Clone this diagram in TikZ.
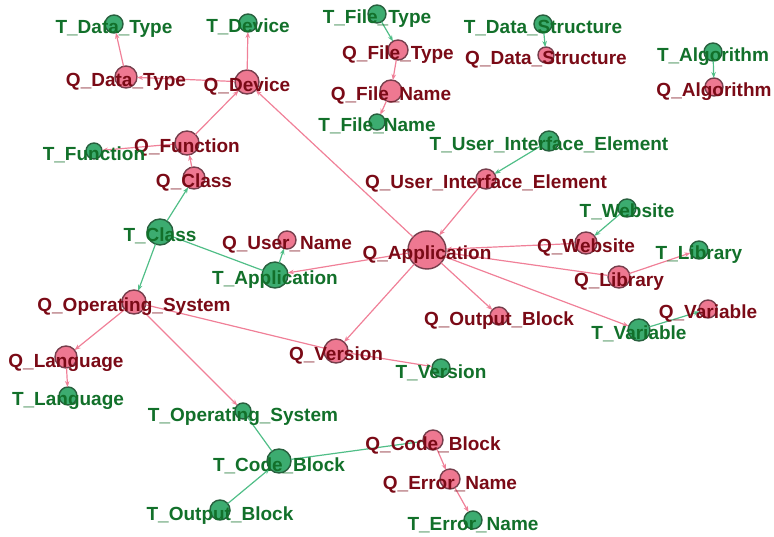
\documentclass[tikz,border=0pt]{standalone}
\usepackage{fontspec}
\setmainfont{Liberation Sans}
\usetikzlibrary{arrows.meta}
\definecolor{qfill}{RGB}{238,120,145}
\definecolor{tfill}{RGB}{60,172,112}
\definecolor{qline}{RGB}{118,62,76}
\definecolor{tline}{RGB}{40,96,62}
\definecolor{qtext}{RGB}{122,10,22}
\definecolor{ttext}{RGB}{18,112,42}
\definecolor{pedge}{RGB}{240,128,152}
\definecolor{gedge}{RGB}{80,190,135}
\tikzset{
  qc/.style={circle,fill=qfill,draw=qline,line width=1.4pt,inner sep=0pt,outer sep=0pt},
  tc/.style={circle,fill=tfill,draw=tline,line width=1.4pt,inner sep=0pt,outer sep=0pt},
  ql/.style={anchor=base,text=qtext,font=\fontsize{19}{19}\selectfont\bfseries,inner sep=0pt},
  tl/.style={anchor=base,text=ttext,font=\fontsize{19}{19}\selectfont\bfseries,inner sep=0pt},
  pe/.style={draw=pedge,line width=1.2pt,-{Stealth[length=6pt,width=4.5pt]}},
  ge/.style={draw=gedge,line width=1.2pt,-{Stealth[length=6pt,width=4.5pt]}},
  pn/.style={draw=pedge,line width=1.2pt},
  gn/.style={draw=gedge,line width=1.2pt},
}
\begin{document}
\begin{tikzpicture}[x=1pt,y=-1pt]
\useasboundingbox (0,0) rectangle (774,537);
% circles
\node[tc,minimum size=18pt] (tdt) at (114,24) {};
\node[tc,minimum size=18pt] (tdev) at (248,23) {};
\node[qc,minimum size=22pt] (qdt) at (126,77) {};
\node[qc,minimum size=24pt] (qdev) at (247,82) {};
\node[qc,minimum size=24pt] (qfun) at (187,143) {};
\node[tc,minimum size=16pt] (tfun) at (94,151) {};
\node[qc,minimum size=22pt] (qcls) at (194,178) {};
\node[tc,minimum size=18pt] (tft) at (377,14) {};
\node[qc,minimum size=20pt] (qft) at (398,50) {};
\node[qc,minimum size=22pt] (qfn) at (391,91) {};
\node[tc,minimum size=16pt] (tfn) at (377,122) {};
\node[tc,minimum size=18pt] (tds) at (543,24) {};
\node[qc,minimum size=16pt] (qds) at (546,55) {};
\node[tc,minimum size=18pt] (talg) at (713,52) {};
\node[qc,minimum size=18pt] (qalg) at (714,87) {};
\node[tc,minimum size=20pt] (tui) at (549,141) {};
\node[qc,minimum size=20pt] (qui) at (486,179) {};
\node[tc,minimum size=26pt] (tcls) at (160,232) {};
\node[qc,minimum size=18pt] (qun) at (287,240) {};
\node[tc,minimum size=26pt] (tapp) at (275,275) {};
\node[qc,minimum size=24pt] (qos) at (134,302) {};
\node[qc,minimum size=22pt] (qlang) at (66,357) {};
\node[qc,minimum size=24pt] (qver) at (336,351) {};
\node[qc,minimum size=38pt] (qapp) at (427,250) {};
\node[tc,minimum size=18pt] (tweb) at (627,208) {};
\node[qc,minimum size=22pt] (qweb) at (586,243) {};
\node[tc,minimum size=18pt] (tlib) at (699,250) {};
\node[qc,minimum size=22pt] (qlib) at (619,277) {};
\node[qc,minimum size=18pt] (qob) at (499,316) {};
\node[qc,minimum size=18pt] (qvar) at (708,309) {};
\node[tc,minimum size=22pt] (tvar) at (639,330) {};
\node[tc,minimum size=18pt] (tver) at (441,368) {};
\node[tc,minimum size=18pt] (tlang) at (68,396) {};
\node[tc,minimum size=16pt] (tos) at (243,411) {};
\node[tc,minimum size=24pt] (tcb) at (279,461) {};
\node[tc,minimum size=20pt] (tob) at (220,510) {};
\node[qc,minimum size=20pt] (qcb) at (433,440) {};
\node[qc,minimum size=20pt] (qen) at (450,479) {};
\node[tc,minimum size=18pt] (ten) at (473,520) {};
% edges
\draw[pe] (qdt) -- (tdt);
\draw[pe] (qdev) -- (tdev);
\draw[pe] (qdev) -- (qdt);
\draw[pe] (qfun) -- (qdev);
\draw[pe] (qfun) -- (tfun);
\draw[pe] (qcls) -- (qfun);
\draw[ge] (tcls) -- (qcls);
\draw[ge] (tcls) -- (qos);
\draw[gn] (tcls) -- (tapp);
\draw[ge] (tapp) -- (qun);
\draw[pe] (qapp) -- (tapp);
\draw[pe] (qapp) -- (qdev);
\draw[ge] (tui) -- (qui);
\draw[pe] (qui) -- (qapp);
\draw[pe] (qweb) -- (qapp);
\draw[ge] (tweb) -- (qweb);
\draw[pn] (qapp) -- (qlib);
\draw[pe] (qlib) -- (tlib);
\draw[pe] (qapp) -- (tvar);
\draw[ge] (tvar) -- (qvar);
\draw[pe] (qapp) -- (qob);
\draw[pe] (qapp) -- (qver);
\draw[pn] (qos) -- (qver);
\draw[pe] (qver) -- (tver);
\draw[pe] (qos) -- (qlang);
\draw[pe] (qlang) -- (tlang);
\draw[pe] (qos) -- (tos);
\draw[gn] (tos) -- (tcb);
\draw[ge] (tob) -- (tcb);
\draw[gn] (tcb) -- (qcb);
\draw[pe] (qcb) -- (qen);
\draw[pe] (qen) -- (ten);
\draw[ge] (tft) -- (qft);
\draw[pe] (qft) -- (qfn);
\draw[pe] (qfn) -- (tfn);
\draw[ge] (tds) -- (qds);
\draw[ge] (talg) -- (qalg);
% labels
\node[tl] (tdt-l) at ([yshift=-10pt]tdt) {T\_Data\_Type};
\node[tl] (tdev-l) at ([yshift=-10pt]tdev) {T\_Device};
\node[ql] (qdt-l) at ([yshift=-10pt]qdt) {Q\_Data\_Type};
\node[ql] (qdev-l) at ([yshift=-10pt]qdev) {Q\_Device};
\node[ql] (qfun-l) at ([yshift=-10pt]qfun) {Q\_Function};
\node[tl] (tfun-l) at ([yshift=-10pt]tfun) {T\_Function};
\node[ql] (qcls-l) at ([yshift=-10pt]qcls) {Q\_Class};
\node[tl] (tft-l) at ([yshift=-10pt]tft) {T\_File\_Type};
\node[ql] (qft-l) at ([yshift=-10pt]qft) {Q\_File\_Type};
\node[ql] (qfn-l) at ([yshift=-10pt]qfn) {Q\_File\_Name};
\node[tl] (tfn-l) at ([yshift=-10pt]tfn) {T\_File\_Name};
\node[tl] (tds-l) at ([yshift=-10pt]tds) {T\_Data\_Structure};
\node[ql] (qds-l) at ([yshift=-10pt]qds) {Q\_Data\_Structure};
\node[tl] (talg-l) at ([yshift=-10pt]talg) {T\_Algorithm};
\node[ql] (qalg-l) at ([yshift=-10pt]qalg) {Q\_Algorithm};
\node[tl] (tui-l) at ([yshift=-10pt]tui) {T\_User\_Interface\_Element};
\node[ql] (qui-l) at ([yshift=-10pt]qui) {Q\_User\_Interface\_Element};
\node[tl] (tcls-l) at ([yshift=-10pt]tcls) {T\_Class};
\node[ql] (qun-l) at ([yshift=-10pt]qun) {Q\_User\_Name};
\node[tl] (tapp-l) at ([yshift=-10pt]tapp) {T\_Application};
\node[ql] (qos-l) at ([yshift=-10pt]qos) {Q\_Operating\_System};
\node[ql] (qlang-l) at ([yshift=-10pt]qlang) {Q\_Language};
\node[ql] (qver-l) at ([yshift=-10pt]qver) {Q\_Version};
\node[ql] (qapp-l) at ([yshift=-10pt]qapp) {Q\_Application};
\node[tl] (tweb-l) at ([yshift=-10pt]tweb) {T\_Website};
\node[ql] (qweb-l) at ([yshift=-10pt]qweb) {Q\_Website};
\node[tl] (tlib-l) at ([yshift=-10pt]tlib) {T\_Library};
\node[ql] (qlib-l) at ([yshift=-10pt]qlib) {Q\_Library};
\node[ql] (qob-l) at ([yshift=-10pt]qob) {Q\_Output\_Block};
\node[ql] (qvar-l) at ([yshift=-10pt]qvar) {Q\_Variable};
\node[tl] (tvar-l) at ([yshift=-10pt]tvar) {T\_Variable};
\node[tl] (tver-l) at ([yshift=-10pt]tver) {T\_Version};
\node[tl] (tlang-l) at ([yshift=-10pt]tlang) {T\_Language};
\node[tl] (tos-l) at ([yshift=-10pt]tos) {T\_Operating\_System};
\node[tl] (tcb-l) at ([yshift=-10pt]tcb) {T\_Code\_Block};
\node[tl] (tob-l) at ([yshift=-10pt]tob) {T\_Output\_Block};
\node[ql] (qcb-l) at ([yshift=-10pt]qcb) {Q\_Code\_Block};
\node[ql] (qen-l) at ([yshift=-10pt]qen) {Q\_Error\_Name};
\node[tl] (ten-l) at ([yshift=-10pt]ten) {T\_Error\_Name};
\end{tikzpicture}
\end{document}
